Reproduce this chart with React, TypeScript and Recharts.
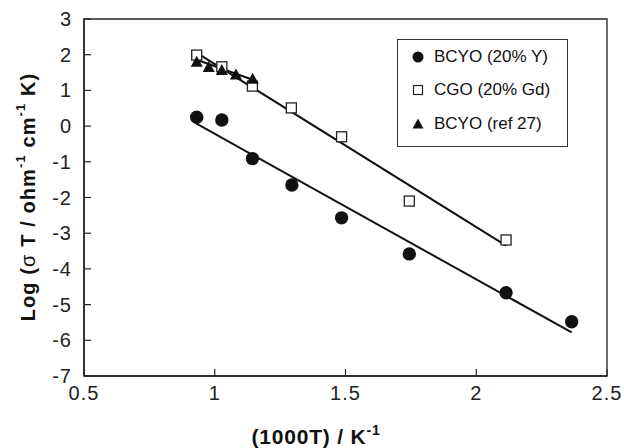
import {
  ScatterChart,
  Scatter,
  XAxis,
  YAxis,
  ReferenceArea,
  Label,
} from "recharts";

const font = '"Liberation Sans", Arial, Helvetica, sans-serif';

// BCYO (20% Y)
const bcyoX = [0.931, 1.027, 1.144, 1.295, 1.485, 1.744, 2.114, 2.365];
const bcyoY = [0.25, 0.17, -0.91, -1.65, -2.57, -3.58, -4.67, -5.48];

// CGO (20% Gd)
const cgoX = [0.931, 1.027, 1.144, 1.293, 1.485, 1.744, 2.114];
const cgoY = [1.99, 1.66, 1.12, 0.51, -0.3, -2.1, -3.19];

// BCYO (ref 27)
const refX = [0.931, 0.977, 1.027, 1.081, 1.145];
const refY = [1.79, 1.64, 1.56, 1.43, 1.31];

// fitted lines (end points)
const bcyoFitX = [0.927, 2.365];
const bcyoFitY = [0.08, -5.78];
const cgoFitX = [0.925, 2.114];
const cgoFitY = [2.08, -3.35];
const refFitX = [0.931, 1.145];
const refFitY = [1.86, 1.3];

const xTicks = [0.5, 1, 1.5, 2, 2.5];
const yTicks = [-7, -6, -5, -4, -3, -2, -1, 0, 1, 2, 3];

const toPoints = (xs: number[], ys: number[]) =>
  xs.map((x, i) => ({ x, y: ys[i] }));

const bcyo = toPoints(bcyoX, bcyoY);
const cgo = toPoints(cgoX, cgoY);
const ref = toPoints(refX, refY);
const bcyoFit = toPoints(bcyoFitX, bcyoFitY);
const cgoFit = toPoints(cgoFitX, cgoFitY);
const refFit = toPoints(refFitX, refFitY);

const Dot = (p: any) => <circle cx={p.cx} cy={p.cy} r={6.7} fill="#111" />;
const Square = (p: any) => (
  <rect
    x={p.cx - 5}
    y={p.cy - 5}
    width={10}
    height={10}
    fill="#fff"
    stroke="#222"
    strokeWidth={1.3}
  />
);
const Tri = (p: any) => (
  <polygon
    points={`${p.cx},${p.cy - 6.5} ${p.cx - 6},${p.cy + 4.5} ${p.cx + 6},${p.cy + 4.5}`}
    fill="#111"
  />
);
const NoShape = () => <g />;

const YTick = ({ x, y, payload }: any) => (
  <g>
    <line x1={x + 12} x2={x + 19} y1={y} y2={y} stroke="#222" strokeWidth={1.2} />
    <text
      x={x}
      y={y}
      dy={7}
      textAnchor="end"
      fontSize={20}
      letterSpacing={1}
      fontFamily={font}
      fill="#222"
    >
      {payload.value}
    </text>
  </g>
);

const XTick = ({ x, y, payload }: any) => (
  <g>
    <line x1={x} x2={x} y1={y} y2={y - 7} stroke="#222" strokeWidth={1.2} />
    <text
      x={x}
      y={y + 24}
      textAnchor="middle"
      fontSize={20}
      letterSpacing={1}
      fontFamily={font}
      fill="#222"
    >
      {payload.value}
    </text>
  </g>
);

const YTitle = () => (
  <text
    x={28}
    y={197}
    transform="rotate(-90, 28, 197)"
    textAnchor="middle"
    dominantBaseline="central"
    fontSize={20}
    fontWeight="bold"
    letterSpacing={1.1}
    fontFamily={font}
    fill="#111"
  >
    Log (<tspan fontWeight="normal">σ</tspan> T / ohm
    <tspan fontSize={13} dy={-8}>-1</tspan>
    <tspan dy={8}> cm</tspan>
    <tspan fontSize={13} dy={-8}>-1</tspan>
    <tspan dy={8}> K)</tspan>
  </text>
);

const XTitle = () => (
  <text
    x={316}
    y={444}
    textAnchor="middle"
    fontSize={21}
    fontWeight="bold"
    letterSpacing={0.8}
    fontFamily={font}
    fill="#111"
  >
    (1000T) / K<tspan fontSize={14} dy={-9}>-1</tspan>
  </text>
);

const legendItems = [
  { name: "BCYO (20% Y)", mark: <circle cx={7} cy={7} r={5.5} fill="#111" /> },
  {
    name: "CGO (20% Gd)",
    mark: <rect x={2.5} y={2.5} width={9} height={9} fill="#fff" stroke="#222" strokeWidth={1.2} />,
  },
  { name: "BCYO (ref 27)", mark: <polygon points="7,1.5 1.5,11.5 12.5,11.5" fill="#111" /> },
];

const LegendBox = () => (
  <div
    style={{
      position: "absolute",
      left: 397,
      top: 39,
      width: 171,
      height: 108,
      boxSizing: "border-box",
      border: "1px solid #333",
      background: "#fff",
      fontFamily: font,
      fontSize: 17,
      color: "#111",
    }}
  >
    {legendItems.map((it) => (
      <div
        key={it.name}
        style={{ display: "flex", alignItems: "center", height: 33.5, paddingLeft: 13 }}
      >
        <svg width={14} height={14} style={{ marginRight: 9 }}>
          {it.mark}
        </svg>
        <span>{it.name}</span>
      </div>
    ))}
  </div>
);

export default function App() {
  return (
    <div style={{ position: "absolute", left: 0, top: 0, width: 624, height: 448, background: "#fff" }}>
      <ScatterChart
        width={624}
        height={448}
        margin={{ top: 19, right: 17, bottom: 0, left: 0 }}
      >
        <XAxis
          type="number"
          dataKey="x"
          domain={[0.5, 2.5]}
          ticks={xTicks}
          height={72}
          tickSize={0}
          tickMargin={0}
          tick={<XTick />}
          axisLine={{ stroke: "#222", strokeWidth: 1.5 }}
          label={<Label content={<XTitle />} />}
        />
        <YAxis
          type="number"
          dataKey="y"
          domain={[-7, 3]}
          ticks={yTicks}
          width={84}
          tickSize={0}
          tickMargin={12}
          tick={<YTick />}
          axisLine={{ stroke: "#222", strokeWidth: 1.5 }}
          label={<Label content={<YTitle />} />}
        />
        <ReferenceArea
          x1={0.5}
          x2={2.5}
          y1={-7}
          y2={3}
          fill="none"
          stroke="#222"
          strokeWidth={1.3}
        />
        <Scatter data={bcyoFit} line={{ stroke: "#111", strokeWidth: 2 }} shape={NoShape} legendType="none" isAnimationActive={false} />
        <Scatter data={cgoFit} line={{ stroke: "#111", strokeWidth: 2 }} shape={NoShape} legendType="none" isAnimationActive={false} />
        <Scatter data={refFit} line={{ stroke: "#111", strokeWidth: 2 }} shape={NoShape} legendType="none" isAnimationActive={false} />
        <Scatter name="BCYO (20% Y)" data={bcyo} shape={Dot} isAnimationActive={false} />
        <Scatter name="CGO (20% Gd)" data={cgo} shape={Square} isAnimationActive={false} />
        <Scatter name="BCYO (ref 27)" data={ref} shape={Tri} isAnimationActive={false} />
      </ScatterChart>
      <LegendBox />
    </div>
  );
}
